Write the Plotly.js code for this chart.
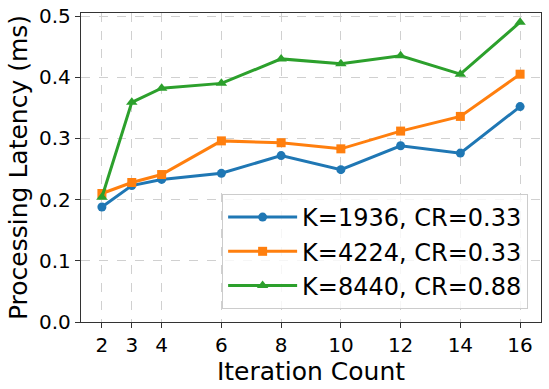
<!DOCTYPE html>
<html>
<head>
<meta charset="utf-8">
<script src="https://cdn.plot.ly/plotly-3.0.1.min.js"></script>
<style>
body{margin:0;padding:0;background:#fff}
#chart{width:549px;height:389px}
</style>
</head>
<body>
<div id="chart"></div>
<script>

const iterations = [2, 3, 4, 6, 8, 10, 12, 14, 16]

const k1936 = [0.188, 0.223, 0.233, 0.243, 0.272, 0.249, 0.288, 0.276, 0.352]
const k4224 = [0.210, 0.228, 0.241, 0.296, 0.293, 0.283, 0.312, 0.336, 0.405]
const k8440 = [0.204, 0.359, 0.382, 0.390, 0.430, 0.422, 0.435, 0.405, 0.490]

const names = ["K=1936, CR=0.33", "K=4224, CR=0.33", "K=8440, CR=0.88"]

const font = "DejaVu Sans, sans-serif"

function series(y, name, color, symbol, size){
return {
x: iterations,
y: y,
name: name,
mode: "lines+markers",
line: {color: color, width: 3},
marker: {color: color, symbol: symbol, size: size}
}
}

const traces = [
series(k1936, names[0], "#1f77b4", "circle", 9),
series(k4224, names[1], "#ff7f0e", "square", 9),
series(k8440, names[2], "#2ca02c", "triangle-up", 10)
]

const axisStyle = {
showline: true,
mirror: true,
linecolor: "#333",
linewidth: 1.2,
ticks: "outside",
ticklen: 5,
tickcolor: "#333",
showgrid: true,
gridcolor: "#d0d0d0",
griddash: "dash",
gridwidth: 1,
zeroline: false,
tickfont: {family: font, size: 20, color: "#000"}
}

const layout = {
width: 549,
height: 389,
margin: {l: 81, r: 8, t: 13, b: 67},
paper_bgcolor: "#fff",
plot_bgcolor: "#fff",
font: {family: font, color: "#000"},
xaxis: Object.assign({}, axisStyle, {
range: [1.3, 16.7],
tickmode: "array",
tickvals: iterations,
title: {text: "Iteration Count", font: {family: font, size: 25}, standoff: 2}
}),
yaxis: Object.assign({}, axisStyle, {
range: [0, 0.505],
tickmode: "array",
tickvals: [0, 0.1, 0.2, 0.3, 0.4, 0.5],
tickformat: ".1f",
title: {text: "Processing Latency (ms)", font: {family: font, size: 25}, standoff: 4}
}),
legend: {
x: 0.972,
y: 0.042,
xanchor: "right",
yanchor: "bottom",
bgcolor: "rgba(255,255,255,0.8)",
bordercolor: "#ccc",
borderwidth: 1,
font: {family: font, size: 24},
itemwidth: 69,
tracegroupgap: 0
},
showlegend: true
}

Plotly.newPlot("chart", traces, layout, {displayModeBar: false, staticPlot: true})

</script>
</body>
</html>
